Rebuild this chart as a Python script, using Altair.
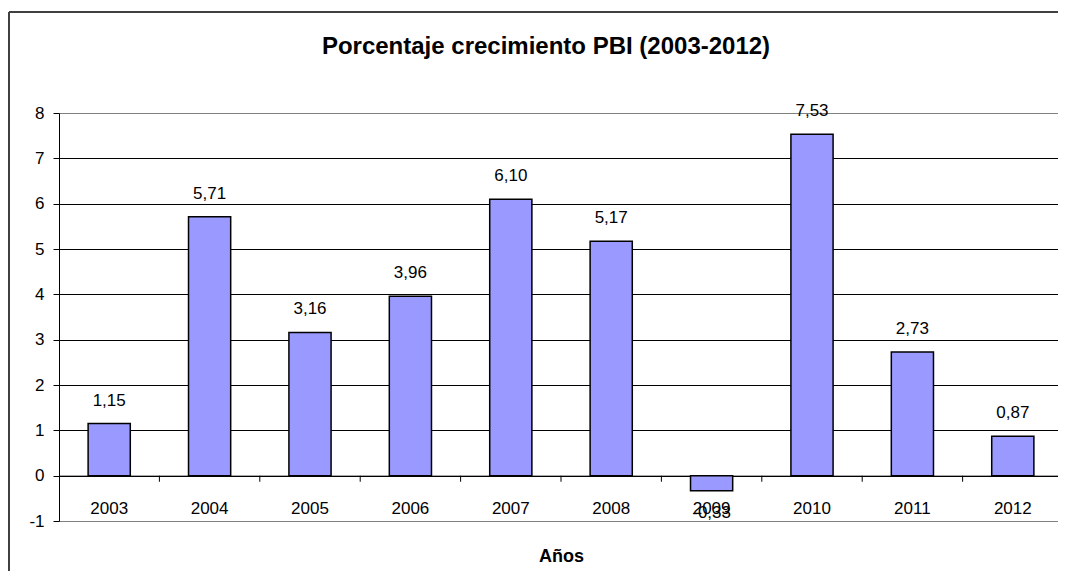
import altair as alt
import pandas as pd

years = ["2003", "2004", "2005", "2006", "2007", "2008", "2009", "2010", "2011", "2012"]
values = [1.15, 5.71, 3.16, 3.96, 6.10, 5.17, -0.33, 7.53, 2.73, 0.87]
labels = [f"{v:.2f}".replace(".", ",") for v in values]

df = pd.DataFrame({"year": years, "value": values, "label": labels})

FONT = "Liberation Sans"
W, H = 1004, 408
zero_off = -H / 9.0  # move the category axis up to the zero line
step = W / len(years)

xscale = alt.Scale(paddingInner=0.58, paddingOuter=0.29)
yscale = alt.Scale(domain=[-1, 8], nice=False, zero=False)

yaxis = alt.Axis(
    values=list(range(-1, 9)), title=None, grid=True, labelExpr="'' + datum.value",
    gridColor={"condition": {"test": "datum.value === 8 || datum.value === -1", "value": "#808080"}, "value": "#000000"},
    gridWidth=1, domainColor="#000000", domainWidth=1, tickColor="#000000", tickSize=6,
    labelFont=FONT, labelFontSize=17, labelColor="#000000", labelPadding=9,
)

xaxis = alt.Axis(
    orient="bottom", offset=zero_off, ticks=False, grid=False, labelAngle=0,
    labelFont=FONT, labelFontSize=17, labelColor="#000000", labelPadding=25,
    domainColor="#000000", domainWidth=1,
    title="Años", titleFont=FONT, titleFontSize=18, titleFontWeight="bold",
    titleColor="#000000", titlePadding=31,
)

base = alt.Chart(df)

bars = base.mark_bar(color="#9999FF", stroke="#000000", strokeWidth=1.5).encode(
    x=alt.X("year:N", scale=xscale, sort=years, axis=xaxis),
    y=alt.Y("value:Q", scale=yscale, axis=yaxis),
)

# category separator ticks hanging below the zero line
sep_ticks = base.transform_filter(f"datum.year != '{years[0]}'").mark_tick(
    orient="vertical", size=6, thickness=1, color="#000000", xOffset=-step / 2, yOffset=3, opacity=1
).encode(
    x=alt.X("year:N", scale=xscale, sort=years),
    y=alt.datum(0),
)

pos_text = base.transform_filter("datum.value >= 0").mark_text(
    font=FONT, fontSize=17, color="#000000", baseline="alphabetic", dy=-18
).encode(
    x=alt.X("year:N", scale=xscale, sort=years),
    y=alt.Y("value:Q", scale=yscale),
    text="label:N",
)

neg_text = base.transform_filter("datum.value < 0").mark_text(
    font=FONT, fontSize=17, color="#000000", baseline="alphabetic", dy=27
).encode(
    x=alt.X("year:N", scale=xscale, sort=years),
    y=alt.Y("value:Q", scale=yscale),
    text="label:N",
)

frame_src = alt.Chart(pd.DataFrame({"f": [0]}))
frame_left = frame_src.mark_rule(color="#404040", strokeWidth=2).encode(
    x=alt.value(-50), y=alt.value(-101), y2=alt.value(520)
)
frame_top = frame_src.mark_rule(color="#404040", strokeWidth=2).encode(
    x=alt.value(-50), x2=alt.value(1100), y=alt.value(-101)
)

chart = alt.layer(bars, sep_ticks, pos_text, neg_text, frame_left, frame_top).properties(
    width=W, height=H,
    title=alt.TitleParams("Porcentaje crecimiento PBI (2003-2012)", font=FONT, fontSize=24,
                          fontWeight="bold", color="#000000", anchor="middle", dx=-15, offset=-48),
    autosize="none",
    padding={"left": 51, "top": 105, "right": -5, "bottom": 50},
).configure_view(
    fill="#C0C0C0", stroke="#808080", strokeWidth=1
).configure(background="#FFFFFF")

chart.save("out.html", embed_options={"renderer": "svg", "actions": False})
